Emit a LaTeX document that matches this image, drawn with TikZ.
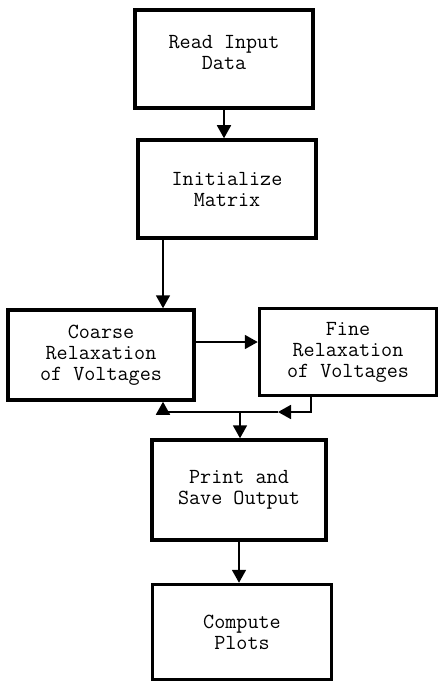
\documentclass[tikz,border=0pt]{standalone}
\usepackage{tikz}
\usetikzlibrary{arrows.meta, positioning, calc}

\begin{document}
\begin{tikzpicture}[
    x=1pt, y=-1pt,
    stepbox/.style={rectangle, draw, line width=3.5pt, align=center,
                    font=\ttfamily\fontsize{21.5}{21}\selectfont},
    arr/.style={-{Triangle[length=13pt, width=14pt]}, line width=1.8pt}
  ]
  \useasboundingbox (0,0) rectangle (439,682);

  % Setup
  \node[stepbox, minimum width=178pt, minimum height=98pt] (read) at (224,59) {Read Input\\Data\\[-7pt]};
  \node[stepbox, minimum width=178pt, minimum height=98pt] (init) at (227,189) {Initialize\\Matrix};

  % Relaxation
  \node[stepbox, minimum width=186pt, minimum height=90pt] (coarse) at (101,355) {Coarse\\Relaxation\\of Voltages};
  \node[stepbox, minimum width=177pt, minimum height=87pt] (fine) at (348,352) {Fine\\Relaxation\\of Voltages};

  % Output
  \node[stepbox, minimum width=174pt, minimum height=100pt] (print) at (239,490) {Print and\\Save Output};
  \node[stepbox, minimum width=179pt, minimum height=95pt] (plots) at (242,632) {Compute\\Plots};

  \coordinate (fbk) at (278,412);
  \coordinate (join) at (240,412);

  % Edges
  \draw[arr] (read.south) -- (read.south |- init.north);
  \draw[arr] ([xshift=-64pt]init.south) -- ([xshift=-64pt]init.south |- coarse.north);
  \draw[arr] ([yshift=13pt]coarse.east) -- ([yshift=13pt]coarse.east -| fine.west);
  \draw[arr] ([xshift=-37pt]fine.south) |- (fbk);
  \draw[arr] (fbk) -| ([xshift=62pt]coarse.south);
  \draw[arr] (join) -- (join |- print.north);
  \draw[arr] (print.south) -- (print.south |- plots.north);

\end{tikzpicture}
\end{document}
